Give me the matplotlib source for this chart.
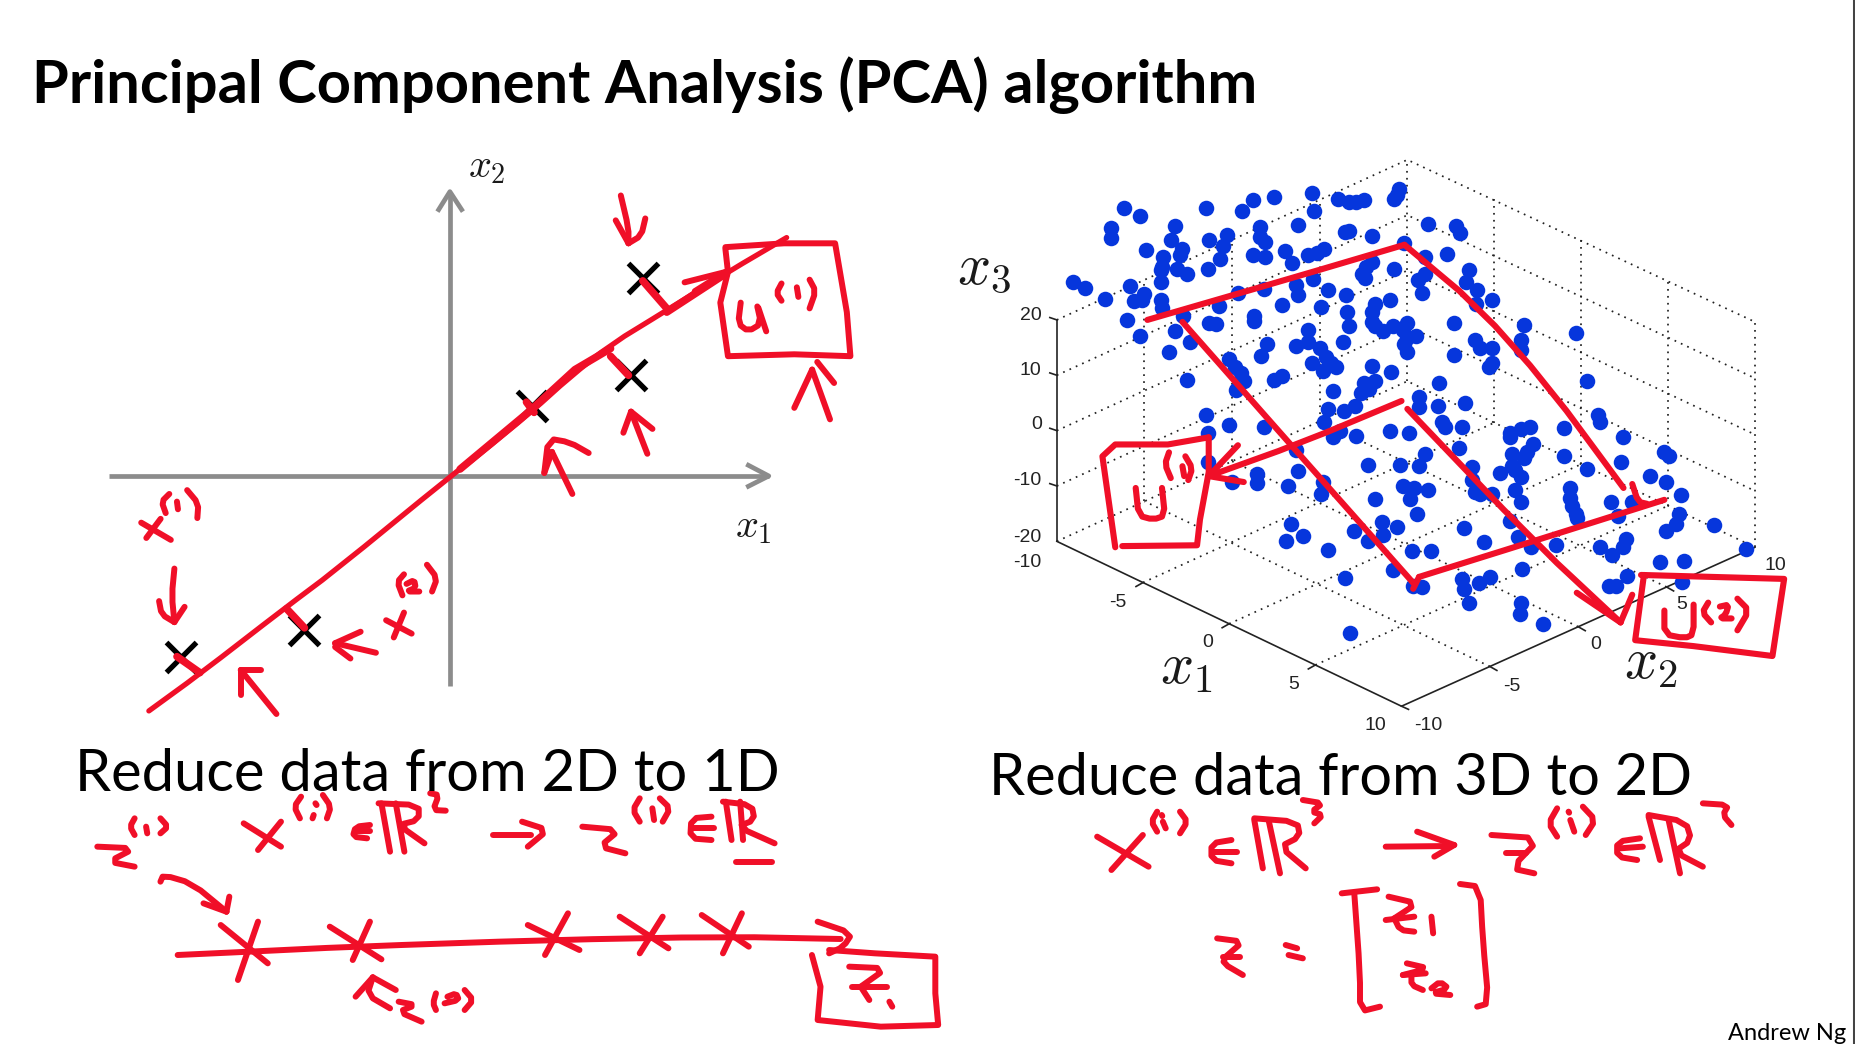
import numpy as np
import matplotlib
matplotlib.use('Agg')
import matplotlib.pyplot as plt

W, H = 1856, 1044
RED = '#f00f28'
GRAY = '#8c8c8c'
BLUE = '#0636dc'
plt.rcParams['mathtext.fontset'] = 'cm'

TITLE = 'Principal Component Analysis (PCA) algorithm'
CAPTION_2D = 'Reduce data from 2D to 1D'
CAPTION_3D = 'Reduce data from 3D to 2D'
AUTHOR = 'Andrew Ng'

# --- left chart: the five samples
sample_x = [198, 440, 885, 1080, 1103]
sample_y = [1350, 1280, 695, 615, 360]

# --- right chart: the projected 3-D cloud
cloud = [
 (315,172),(342,191),(455,172),(517,180),(535,152),(572,144),(636,135),(641,180),(682,148),(700,158),(712,156),(726,152),(778,150),(786,125),(782,138),
 (293,222),(293,248),(402,218),(396,252),(460,252),(492,240),(484,268),(548,220),(548,245),(556,258),(612,216),(694,232),(700,230),(740,244),(836,212),(884,218),(890,234),(795,260),
 (353,277),(415,275),(410,292),(382,295),(380,320),(378,330),(405,325),(422,338),(458,325),(480,300),(535,292),(556,296),(590,280),(603,310),(630,292),(646,285),(658,275),(868,288),(830,295),
 (740,308),(730,322),(722,338),(728,350),(778,325),(830,340),(818,355),(906,328),(900,358),(920,380),(378,360),
 (228,360),(249,375),(282,402),(326,370),(350,390),(345,405),(332,408),(378,405),(380,425),(510,388),(555,378),(610,366),(638,352),(664,380),(695,392),(825,388),(945,405),(918,415),(770,405),(745,415),(585,418),(612,392),(652,422),(477,420),(416,445),(320,455),
 (538,445),(538,458),(460,462),(473,465),(697,435),(700,470),(740,435),(740,460),(745,470),(758,482),(775,470),(800,462),(792,480),(880,462),(1000,467),(1088,487),(343,495),(402,483),(428,512),
 (630,480),(560,515),(610,522),(630,510),(650,525),(690,510),(800,500),(815,495),(795,515),(800,535),(915,505),(925,525),(945,525),(995,505),(995,530),(392,536),(550,547),(880,544),
 (495,555),(505,575),(515,590),(636,563),(660,548),(670,565),(678,575),(655,585),(740,572),(772,587),(945,565),(940,575),(422,607),(572,607),(585,597),(520,610),(507,632),(1108,610),
 (745,610),(725,615),(735,630),(720,640),(672,635),(855,615),
 (820,650),(820,675),(852,672),(898,664),(665,680),(692,685),(710,672),(657,712),(455,695),(495,722),(555,725),(860,712),(865,725),(893,725),(1127,695),(1130,712),(1068,728),(672,750),(685,735),(712,748),(770,737),(802,742),(458,740),(975,740),(975,750),(995,730),(1010,725),(1170,752),
 (1240,790),(1248,798),(1215,850),(1243,866),(1268,898),(888,778),(980,795),(1015,770),(1005,790),(1000,805),(1068,800),(830,795),(820,825),(787,822),(732,822),(613,837),(610,785),(458,815),(500,865),(543,845),(543,868),(595,875),(655,865),(652,895),(745,907),(792,875),(812,880),(835,885),(805,908),(910,828),(980,825),(985,835),(995,852),(958,842),(1108,833),(1165,815),
 (910,860),(915,890),(925,895),(945,895),(985,885),(995,915),(1078,880),(1078,905),(1082,925),(1088,945),(1090,957),(1148,915),(1185,915),(1265,945),(1160,950),(817,945),(757,965),(783,978),(708,988),(600,972),(622,1002),(592,1015),(758,1000),(733,1013),(897,980),(932,1017),(975,963),(990,1005),(1260,970),(1242,988),(1325,973),(1175,1010),(1170,1030),(1055,1025),(1012,1030),(1130,1030),(1150,1050),(665,1037),(808,1040),(840,1040),
 (1380,1035),(1232,1068),(1273,1065),(775,1088),(693,1107),(996,1085),(1176,1103),(825,1130),(810,1128),(893,1110),(897,1135),(922,1120),(942,1105),(1145,1128),(1158,1128),(1270,1118),(906,1172),(995,1170),(993,1200),(1033,1225),(702,1248),
]

# tick labels of the 3-D chart with where they sit
z_ticks = ['20', '10', '0', '-10', '-20']
z_tick_pos = [(155,445),(155,582),(165,720),(150,862),(150,1005)]
x1_ticks = ['-10', '-5', '0', '5', '10']
x1_tick_pos = [(150,1068),(305,1170),(458,1272),(605,1378),(745,1480)]
x2_ticks = ['-10', '-5', '0', '5', '10']
x2_tick_pos = [(835,1480),(978,1382),(1122,1275),(1270,1175),(1430,1075)]

# --- pen strokes over the left chart
main_line = [(135,1492),(235,1395),(400,1225),(500,1125),(725,880),(780,825),(885,710),(960,620),(1040,535),(1150,445),(1270,345),(1385,255)]
left_thick = [[(745,860),(880,710),(970,600),(1040,545)],[(1150,450),(1265,350)],
              [(190,1350),(235,1392)],[(405,1225),(440,1275)],[(1040,565),(1075,615)],[(1103,368),(1150,440)],[(875,685),(890,712)]]
left_boxes = [
 [(1265,285),(1270,345),(1255,425),(1270,565),(1400,560),(1510,565),(1503,450),(1480,270),(1380,270),(1265,280)],
]
left_strokes = [
 [(1185,372),(1265,345)],[(1205,395),(1265,345)],
 [(1295,425),(1290,480),(1310,500),(1335,480),(1325,420),(1345,500)],
 [(1375,375),(1365,400),(1375,420)],[(1405,385),(1408,410)],[(1430,365),(1442,395),(1430,440)],
 [(1470,730),(1435,600)],[(1435,600),(1400,700)],[(1445,580),(1478,635)],
 [(1112,820),(1080,710)],[(1080,710),(1065,765)],[(1080,710),(1122,755)],
 [(965,925),(925,815)],[(925,815),(910,870)],[(910,870),(918,780),(960,790),(997,818)],
 [(1060,145),(1075,230),(1075,270)],[(1075,270),(1050,210)],[(1075,270),(1100,250),(1108,205)],
 [(120,1000),(178,1045)],[(158,990),(130,1040)],
 [(175,925),(160,945),(168,975)],[(190,945),(192,965)],[(210,915),(232,950),(230,988)],
 [(185,1120),(180,1190),(185,1260)],[(185,1260),(205,1220)],[(185,1260),(160,1240),(155,1205)],
 [(600,1255),(650,1290)],[(635,1235),(615,1300)],
 [(635,1135),(622,1155),(632,1190)],[(640,1160),(655,1150),(658,1170),(640,1180),(665,1180)],[(680,1110),(700,1145),(690,1180)],
 [(580,1340),(500,1315)],[(500,1315),(550,1285)],[(500,1325),(530,1355)],
 [(385,1500),(315,1385)],[(315,1385),(315,1450)],[(315,1385),(355,1385)],
]

# --- pen strokes over the right chart
right_lines = [
 [(355,455),(600,350),(795,265)],[(795,265),(920,420),(1040,620),(1170,880)],
 [(415,460),(600,770),(810,1120)],[(810,1135),(820,1105)],[(820,1105),(1015,1015),(1240,910)],
 [(790,660),(620,765),(460,850)],[(800,680),(1020,1020),(1165,1220)],
]
right_boxes = [
 [(460,752),(390,770),(300,770),(278,800),(300,1030)],[(312,1027),(440,1025),(445,960),(460,840),(460,752)],
 [(1200,1100),(1445,1110),(1425,1305),(1290,1280),(1190,1265),(1205,1100)],
]
right_strokes = [
 [(1185,870),(1195,915),(1210,920)],
 [(510,772),(460,850)],[(460,850),(520,865)],
 [(1090,1145),(1165,1220)],[(1165,1220),(1185,1150)],
 [(335,880),(340,950),(365,960),(385,950),(380,880)],
 [(392,790),(385,820),(395,855)],[(415,825),(418,850)],[(420,800),(432,830),(425,860)],
 [(1240,1190),(1240,1250),(1275,1260),(1290,1250),(1290,1175)],
 [(1315,1170),(1305,1195),(1320,1220)],[(1335,1180),(1350,1175),(1345,1200),(1335,1210),(1355,1210)],[(1365,1160),(1385,1190),(1365,1240)],
]

# --- pen strokes under the 2D caption
under_left_box = [
 [(1310,645),(1325,740),(1320,840),(1430,860),(1530,855),(1525,760),(1525,650),(1420,640),(1340,630)],
]
under_left = [
 [(65,320),(130,325),(85,365),(130,380)],
 [(130,235),(122,260),(130,285)],[(150,260),(152,280)],[(175,235),(188,260),(175,280)],
 [(175,425),(180,405),(230,430),(290,515)],[(250,490),(290,515)],[(290,515),(295,470)],
 [(320,250),(385,320)],[(385,245),(345,330)],
 [(420,170),(408,200),(418,235)],[(445,190),(447,195)],[(442,225),(440,235)],[(458,165),(472,200),(465,235)],
 [(540,255),(515,260),(510,290),(535,295)],[(515,272),(540,272)],
 [(560,190),(575,335)],[(585,190),(600,335)],[(555,190),(625,195),(625,240),(590,255),(635,310)],
 [(645,160),(660,165),(650,210),(672,212)],
 [(755,285),(820,285)],[(805,245),(850,270),(815,320)],
 [(910,260),(975,270),(940,320),(985,340)],
 [(1010,175),(998,210),(1010,245)],[(1032,205),(1035,240)],[(1045,175),(1063,205),(1050,245)],
 [(1135,230),(1100,235),(1098,295),(1135,300)],[(1100,265),(1140,265)],
 [(1160,185),(1170,300)],[(1185,185),(1190,300)],[(1155,185),(1205,195),(1210,240),(1180,260),(1245,310)],
 [(1178,365),(1240,365)],
 [(205,645),(330,635),(510,620),(850,600),(1160,590),(1360,597)],
 [(1320,545),(1380,580),(1365,620),(1340,640)],
 [(280,555),(362,670)],[(345,545),(310,720)],[(470,560),(560,658)],[(540,545),(510,660)],
 [(815,555),(905,630)],[(885,520),(845,645)],[(975,530),(1060,625)],[(1050,530),(1010,640)],
 [(1118,525),(1200,620)],[(1188,520),(1155,640)],
 [(575,805),(535,765),(545,712)],[(515,770),(545,712)],[(545,712),(585,750)],
 [(590,785),(620,795),(590,815),(630,845)],
 [(655,760),(650,790),(655,810)],[(675,770),(690,760),(695,780),(670,790)],[(705,750),(720,780),(705,810)],
 [(1375,680),(1440,685),(1395,740)],[(1380,740),(1440,740)],[(1395,740),(1410,780)],[(1445,785),(1450,800)],
]

# --- pen strokes under the 3D caption
under_right = [
 [(240,290),(330,380)],[(320,285),(265,390)],
 [(345,215),(335,245),(345,275)],[(355,245),(360,265)],[(353,225),(354,228)],[(385,215),(398,245),(385,280)],
 [(475,300),(440,310),(440,360),(475,370)],[(445,335),(485,335)],
 [(515,240),(530,385)],[(540,240),(560,400)],[(515,235),(590,245),(595,290),(560,320),(605,385)],
 [(600,180),(635,190),(615,215),(635,225),(620,250)],
 [(745,320),(860,318)],[(800,275),(865,315)],[(865,315),(830,350)],
 [(930,285),(1015,295),(965,385),(1005,400)],[(955,340),(990,340)],
 [(1045,205),(1030,250),(1045,290)],[(1068,240),(1075,275)],[(1065,215),(1066,218)],[(1090,200),(1112,240),(1095,285)],
 [(1190,295),(1150,305),(1150,350),(1185,360)],[(1155,325),(1195,320)],
 [(1205,230),(1225,360)],[(1240,240),(1260,400)],[(1205,225),(1270,245),(1280,300),(1250,335),(1300,380)],
 [(1300,190),(1345,195),(1335,225),(1350,255)],
 [(735,800),(700,815),(700,700),(690,460)],[(668,460),(730,448)],
 [(875,432),(910,440),(915,600),(925,790),(905,800)],
 [(750,470),(800,490),(760,535)],[(745,540),(795,530)],[(760,535),(770,570),(795,575)],[(825,530),(828,580)],
 [(782,670),(820,685),(775,705)],[(775,705),(815,700)],[(790,705),(790,735),(810,750)],
 [(825,745),(840,725),(855,745),(825,760),(858,765)],
 [(450,595),(495,605),(465,650)],[(460,650),(490,650)],[(465,650),(460,670),(495,705)],
 [(570,615),(590,625)],[(575,645),(600,655)],
]


def smooth(pts, rounds=1):
    pts = np.asarray(pts, float)
    if len(pts) < 3:
        return pts
    for _ in range(rounds):
        q = 0.75 * pts[:-1] + 0.25 * pts[1:]
        r = 0.25 * pts[:-1] + 0.75 * pts[1:]
        mid = np.empty((2 * len(q), 2))
        mid[0::2], mid[1::2] = q, r
        pts = np.vstack([pts[0], mid, pts[-1]])
    return pts


def panel(fig, x0, y0, w, h, zw, zh):
    ax = fig.add_axes([x0 / W, 1 - (y0 + h) / H, w / W, h / H])
    ax.set_xlim(0, zw)
    ax.set_ylim(zh, 0)
    ax.axis('off')
    ax.patch.set_alpha(0)
    return ax


def pen(ax, strokes, lw=4.3, do_smooth=True):
    for s in strokes:
        p = smooth(s) if do_smooth else np.asarray(s, float)
        ax.plot(p[:, 0], p[:, 1], color=RED, lw=lw, solid_capstyle='round',
                solid_joinstyle='round', zorder=6, clip_on=False)


fig = plt.figure(figsize=(W / 100, H / 100), dpi=100, facecolor='white')

fig.text(32 / W, 1 - 103 / H, TITLE, fontfamily='Lato', fontweight='bold', fontsize=42.9, color='black', va='baseline')
fig.text(75 / W, 1 - 791 / H, CAPTION_2D, fontfamily='Lato', fontsize=41.7, color='black', va='baseline')
fig.text(989 / W, 1 - 795 / H, CAPTION_3D, fontfamily='Lato', fontsize=41.6, color='black', va='baseline')
fig.text(1846 / W, 1 - 1040 / H, AUTHOR, fontfamily='Lato', fontsize=17, color='black', va='baseline', ha='right')
fig.add_artist(plt.Line2D([1854.5 / W, 1854.5 / W], [0, 1], color='#444444', lw=2.2))

# ---------------- left chart
axL = panel(fig, 80, 140, 800, 600, 1568, 1568)
axL.plot([57, 1350], [878, 878], color=GRAY, lw=3.4, zorder=2, solid_capstyle='butt')
axL.plot([1310, 1350, 1310], [850, 878, 905], color=GRAY, lw=3.4, zorder=2)
axL.plot([725, 725], [1428, 135], color=GRAY, lw=3.4, zorder=2, solid_capstyle='butt')
axL.plot([703, 725, 748], [182, 135, 182], color=GRAY, lw=3.4, zorder=2)
axL.plot(sample_x, sample_y, ls='none', marker='x', ms=21, mew=3.8, color='black', zorder=4)
axL.text(1320, 1008, r'$x_1$', fontsize=29, ha='center', va='center', color='#1a1a1a')
axL.text(798, 68, r'$x_2$', fontsize=29, ha='center', va='center', color='#1a1a1a')
pen(axL, [main_line], lw=3.8)
pen(axL, left_thick, lw=5.4, do_smooth=False)
pen(axL, left_boxes, do_smooth=False)
pen(axL, left_strokes)

# ---------------- right chart
axR = panel(fig, 940, 140, 916, 620, 1568, 1568)
A, B, C, D = map(np.array, [(200, 1015), (800, 610), (1395, 1030), (790, 1432)])
dot = dict(color='#222222', lw=1.25, ls=(0, (1, 3.0)), zorder=1)
solid = dict(color='#222222', lw=1.2, zorder=2)
# walls
for t in [0, .25, .5, .75, 1]:
    a, b, c = A + (0, -t * 560), B + (0, -t * 560), C + (0, -t * 570)
    axR.plot([a[0], b[0], c[0]], [a[1], b[1], c[1]], **dot)
    if t:
        axR.plot([a[0], a[0] - 12], [a[1], a[1] - 6], **solid)
for t in [.25, .5, .75, 1]:
    p, q = A + t * (B - A), B + t * (C - B)
    axR.plot([p[0], p[0]], [p[1], p[1] - 560], **dot)
    axR.plot([q[0], q[0]], [q[1], q[1] - 570], **dot)
# floor
for t in [.25, .5, .75]:
    p, q = A + t * (D - A), B + t * (C - B)
    axR.plot([p[0], q[0]], [p[1], q[1]], **dot)
    p, q = D + t * (C - D), A + t * (B - A)
    axR.plot([p[0], q[0]], [p[1], q[1]], **dot)
    p = A + t * (D - A)
    axR.plot([p[0], p[0] - 12], [p[1], p[1] + 10], **solid)
    p = D + t * (C - D)
    axR.plot([p[0], p[0] + 12], [p[1], p[1] + 10], **solid)
axR.plot([A[0], A[0]], [A[1], A[1] - 560], **solid)
axR.plot([A[0], D[0], C[0]], [A[1], D[1], C[1]], **solid)
axR.plot([D[0], D[0] + 12], [D[1], D[1] + 8], **solid)

cx, cy = zip(*cloud)
axR.scatter(cx, cy, s=125, color=BLUE, linewidths=0, zorder=3)
for labels, pos in ((z_ticks, z_tick_pos), (x1_ticks, x1_tick_pos), (x2_ticks, x2_tick_pos)):
    for lab, (x, y) in zip(labels, pos):
        axR.text(x, y, lab, fontsize=14, fontfamily='Liberation Sans', ha='center', va='center', color='#222222')
axR.text(75, 322, r'$x_3$', fontsize=42, ha='center', va='center', color='#1a1a1a')
axR.text(422, 1332, r'$x_1$', fontsize=42, ha='center', va='center', color='#1a1a1a')
axR.text(1217, 1318, r'$x_2$', fontsize=42, ha='center', va='center', color='#1a1a1a')
pen(axR, right_lines, do_smooth=True, lw=4.4)
pen(axR, right_boxes, do_smooth=False, lw=4.4)
pen(axR, right_strokes, lw=4.4)

# ---------------- lower handwriting
axA = panel(fig, 60, 740, 900, 304, 1568, 912)
pen(axA, under_left_box, do_smooth=False)
pen(axA, under_left)
axB = panel(fig, 960, 740, 896, 304, 1568, 912)
pen(axB, under_right)

fig.savefig('out.png', dpi=100, facecolor='white')
